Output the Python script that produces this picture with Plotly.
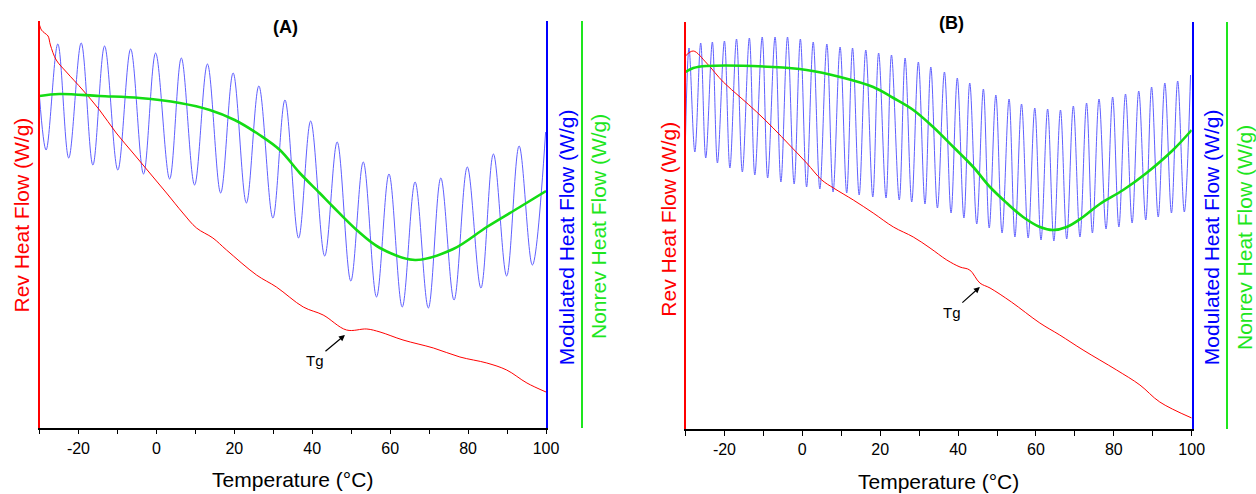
import plotly.graph_objects as go

# ---------------- Panel A data (Temperature in °C, heat flow in arbitrary W/g units) ----------------
A_mod_start_T = -30.0
A_mod_start_v = 3.31
A_peak_T = [-25.3, -19.3, -13.3, -6.6, -0.2, 6.4, 13.1, 19.7, 26.3, 33.0, 39.6, 46.4, 53.1, 59.7,
            66.4, 73.0, 79.8, 86.5, 93.1, 99.9]
A_peak_v = [3.84, 3.85, 3.82, 3.79, 3.75, 3.70, 3.64, 3.55, 3.42, 3.28, 3.07, 2.86, 2.66, 2.54,
            2.46, 2.50, 2.61, 2.74, 2.82, 2.96]
A_trough_T = [-28.3, -22.5, -16.3, -9.9, -3.3, 3.4, 9.8, 16.5, 23.1, 29.9, 36.5, 43.2, 49.9, 56.5,
              63.1, 69.8, 76.4, 83.3, 89.9, 96.5]
A_trough_v = [2.78, 2.70, 2.63, 2.58, 2.54, 2.49, 2.43, 2.35, 2.25, 2.10, 1.90, 1.72, 1.47, 1.31,
              1.21, 1.20, 1.28, 1.40, 1.52, 1.63]

A_rev_T = [-30, -29.5, -28.7, -27.8, -27.2, -25.7, -23.1, -18.9, -14.6, -10.3, -6.0, -1.7, 2.6, 6.8,
           10.3, 14.5, 18.0, 25.7, 30.8, 37.7, 42.8, 48.8, 54.0, 57.4, 63.3, 71.1, 77.9, 84.8, 89.9,
           95.1, 100]
A_rev_v = [4.03, 3.98, 3.95, 3.92, 3.83, 3.68, 3.56, 3.38, 3.18, 2.95, 2.75, 2.55, 2.35, 2.15,
           2.00, 1.90, 1.78, 1.53, 1.41, 1.21, 1.13, 0.98, 0.99, 0.96, 0.88, 0.80, 0.71, 0.65, 0.58,
           0.45, 0.36]

A_nonrev_T = [-30, -24.9, -14.6, -4.3, 6.0, 13.7, 20.1, 26.5, 31.7, 36.8, 41.9, 45.4, 51.4, 57.4,
              66.4, 76.2, 84.8, 93.3, 100]
A_nonrev_v = [3.32, 3.34, 3.32, 3.30, 3.25, 3.18, 3.08, 2.93, 2.78, 2.55, 2.35, 2.21, 1.98, 1.80,
              1.68, 1.79, 2.01, 2.21, 2.37]

# ---------------- Panel B data ----------------
B_mod_start_T = -30.0
B_mod_start_v = 2.91
B_peak_T = [-29.1, -26.1, -23.1, -20.0, -16.9, -13.6, -10.3, -7.0, -3.8, -0.5,
            2.8, 6.3, 9.7, 12.9, 16.3, 19.6, 22.9, 26.4, 29.8, 33.0,
            36.5, 39.8, 43.0, 46.5, 49.7, 53.1, 56.3, 59.7, 63.0, 66.3,
            69.6, 73.0, 76.2, 79.7, 83.0, 86.4, 89.7, 93.1, 96.4, 99.7]
B_peak_v = [3.80, 3.85, 3.86, 3.87, 3.89, 3.90, 3.91, 3.91, 3.91, 3.89,
            3.86, 3.84, 3.81, 3.80, 3.78, 3.75, 3.73, 3.70, 3.66, 3.61,
            3.56, 3.50, 3.45, 3.39, 3.33, 3.29, 3.24, 3.20, 3.19, 3.18,
            3.22, 3.25, 3.29, 3.31, 3.34, 3.37, 3.41, 3.45, 3.47, 3.53]
B_trough_T = [-27.6, -24.8, -21.8, -18.6, -15.4, -12.2, -8.9, -5.5, -2.1, 1.1,
              4.5, 7.9, 11.4, 14.6, 18.1, 21.5, 24.9, 28.1, 31.5, 34.7,
              38.2, 41.5, 44.8, 48.0, 51.3, 54.6, 58.0, 61.3, 64.6, 67.9,
              71.3, 74.5, 78.0, 81.3, 84.7, 88.2, 91.4, 94.8, 98.1]
B_trough_v = [2.76, 2.70, 2.65, 2.60, 2.56, 2.53, 2.50, 2.46, 2.44, 2.41,
              2.39, 2.36, 2.35, 2.33, 2.31, 2.30, 2.28, 2.26, 2.24, 2.20,
              2.15, 2.10, 2.04, 2.00, 1.95, 1.91, 1.90, 1.88, 1.87, 1.89,
              1.91, 1.95, 1.99, 2.01, 2.05, 2.08, 2.11, 2.15, 2.16]

B_rev_T = [-30, -28.0, -24.6, -20.3, -16.0, -11.7, -7.5, -3.3, 1.1, 5.0, 8.0, 13.1, 18.2, 23.4,
           28.5, 32.8, 37.1, 40.5, 43.0, 45.6, 48.2, 53.7, 61.0, 66.1, 72.1, 80.7, 86.7, 91.8, 100]
B_rev_v = [3.72, 3.77, 3.65, 3.46, 3.31, 3.16, 3.00, 2.83, 2.65, 2.48, 2.40, 2.28, 2.15, 2.01,
           1.91, 1.80, 1.68, 1.61, 1.58, 1.45, 1.40, 1.26, 1.05, 0.93, 0.78, 0.58, 0.43, 0.26, 0.10]

B_nonrev_T = [-30, -28.0, -24.6, -7.5, 1.1, 9.7, 18.2, 23.4, 28.5, 33.6, 38.8, 43.9, 48.2, 52.5,
              56.7, 61.0, 64.4, 67.9, 72.1, 76.4, 82.4, 88.4, 95.2, 100]
B_nonrev_v = [3.56, 3.60, 3.62, 3.61, 3.58, 3.51, 3.41, 3.30, 3.18, 3.01, 2.81, 2.61, 2.41, 2.25,
              2.11, 2.01, 1.98, 2.01, 2.11, 2.24, 2.38, 2.55, 2.78, 2.98]

X_TICKS = [-20, 0, 20, 40, 60, 80, 100]
X_TICK_LABELS = ["-20", "0", "20", "40", "60", "80", "100"]
X_TITLE = "Temperature (°C)"
REV_TITLE = "Rev Heat Flow (W/g)"
MOD_TITLE = "Modulated Heat Flow (W/g)"
NONREV_TITLE = "Nonrev Heat Flow (W/g)"

# ---------------- styling ----------------
FONT = "Arial, Liberation Sans, sans-serif"
RED = "#ff0000"
BLUE_AX = "#0000ff"
BLUE_LINE = "rgb(95,95,255)"
GREEN_LINE = "#14dc14"
GREEN_AX = "#1ee61e"
W, H = 1256, 494


def merge(start_T, start_v, t1, v1, t2, v2):
    pts = [(start_T, start_v)] + list(zip(t1, v1)) + list(zip(t2, v2))
    pts.sort(key=lambda p: p[0])
    return [p[0] for p in pts], [p[1] for p in pts]


A_mod_T, A_mod_v = merge(A_mod_start_T, A_mod_start_v, A_peak_T, A_peak_v, A_trough_T, A_trough_v)
B_mod_T, B_mod_v = merge(B_mod_start_T, B_mod_start_v, B_peak_T, B_peak_v, B_trough_T, B_trough_v)

fig = go.Figure()

def add(x, y, xa, ya, color, width):
    fig.add_trace(go.Scatter(x=x, y=y, xaxis=xa, yaxis=ya, mode="lines",
                             line=dict(color=color, width=width, shape="spline", smoothing=1.0),
                             showlegend=False, hoverinfo="skip"))

add(A_mod_T, A_mod_v, "x", "y", BLUE_LINE, 1)
add(A_rev_T, A_rev_v, "x", "y2", RED, 1)
add(A_nonrev_T, A_nonrev_v, "x", "y3", GREEN_LINE, 2.6)
add(B_mod_T, B_mod_v, "x2", "y4", BLUE_LINE, 1)
add(B_rev_T, B_rev_v, "x2", "y5", RED, 1)
add(B_nonrev_T, B_nonrev_v, "x2", "y6", GREEN_LINE, 2.6)

def px(v):
    return v / W

def py(v):
    return 1 - v / H

xa_common = dict(range=[-30, 100], showline=True, linecolor="black", linewidth=1.5,
                 ticks="outside", ticklen=5, tickwidth=1.3, tickcolor="black",
                 tickvals=X_TICKS, ticktext=X_TICK_LABELS,
                 showgrid=False, zeroline=False, automargin=False,
                 minor=dict(dtick=10, tick0=0, ticks="outside", ticklen=5, tickwidth=1.3,
                            tickcolor="black", showgrid=False),
                 tickfont=dict(family=FONT, size=16, color="black"),
                 title=dict(text=X_TITLE, font=dict(family=FONT, size=21, color="black"),
                            standoff=17))

def yax(color, lw, rng, dom, **kw):
    d = dict(range=rng, domain=dom, showline=True, linecolor=color, linewidth=lw,
             showticklabels=False, ticks="", showgrid=False, zeroline=False, automargin=False)
    d.update(kw)
    return d

domA = [py(427.7), py(20.7)]
domB = [py(429), py(21.7)]
rA = [0.003, 4.073]
rB = [-0.01, 4.063]

fig.update_layout(
    template="none",
    width=W, height=H, margin=dict(l=0, r=0, t=0, b=0, pad=0, autoexpand=False),
    paper_bgcolor="white", plot_bgcolor="white",
    font=dict(family=FONT),
    showlegend=False,
    xaxis=dict(domain=[px(39.5), px(546)], anchor="y", **xa_common),
    xaxis2=dict(domain=[px(685.5), px(1191.7)], anchor="y4", **xa_common),
    yaxis=yax(BLUE_AX, 2, rA, domA, anchor="x", side="right"),
    yaxis2=yax(RED, 2, rA, domA, anchor="x", side="left", overlaying="y"),
    yaxis3=yax(GREEN_AX, 1.5, rA, domA, anchor="free", side="right", overlaying="y",
               position=px(582.3)),
    yaxis4=yax(BLUE_AX, 2, rB, domB, anchor="x2", side="right"),
    yaxis5=yax(RED, 2, rB, domB, anchor="x2", side="left", overlaying="y4"),
    yaxis6=yax(GREEN_AX, 1.5, rB, domB, anchor="free", side="right", overlaying="y4",
               position=px(1227.3)),
)

ann = []
def label(text, x, y, color, size=21, angle=-90, bold=False):
    ann.append(dict(text=("<b>%s</b>" % text) if bold else text, x=px(x), y=py(y),
                    xref="paper", yref="paper", showarrow=False, textangle=angle,
                    xanchor="center", yanchor="middle", borderpad=0,
                    font=dict(family=FONT, size=size, color=color)))

label(REV_TITLE, 21, 215.5, RED)
label(MOD_TITLE, 566.7, 237.5, BLUE_AX)
label(NONREV_TITLE, 598.3, 226.7, GREEN_AX)
label(REV_TITLE, 667.7, 219, RED)
label(MOD_TITLE, 1211.7, 237.5, BLUE_AX)
label(NONREV_TITLE, 1244.5, 237.5, GREEN_AX)
label("(A)", 285, 26.7, "black", size=18, angle=0, bold=True)
label("(B)", 951.7, 23.3, "black", size=18, angle=0, bold=True)

ann.append(dict(text="Tg", x=48.4, y=0.93, xref="x", yref="y2", showarrow=True,
                ax=-30, ay=25, arrowhead=2, arrowsize=1, arrowwidth=1.2, arrowcolor="black",
                font=dict(family=FONT, size=15, color="black")))
ann.append(dict(text="Tg", x=45.6, y=1.41, xref="x2", yref="y5", showarrow=True,
                ax=-28, ay=25, arrowhead=2, arrowsize=1, arrowwidth=1.2, arrowcolor="black",
                font=dict(family=FONT, size=15, color="black")))

fig.update_layout(annotations=ann)

fig.write_html("out.html", config={"displayModeBar": False, "responsive": False},
               post_script="document.body.style.margin='0px';document.body.style.overflow='hidden';")
